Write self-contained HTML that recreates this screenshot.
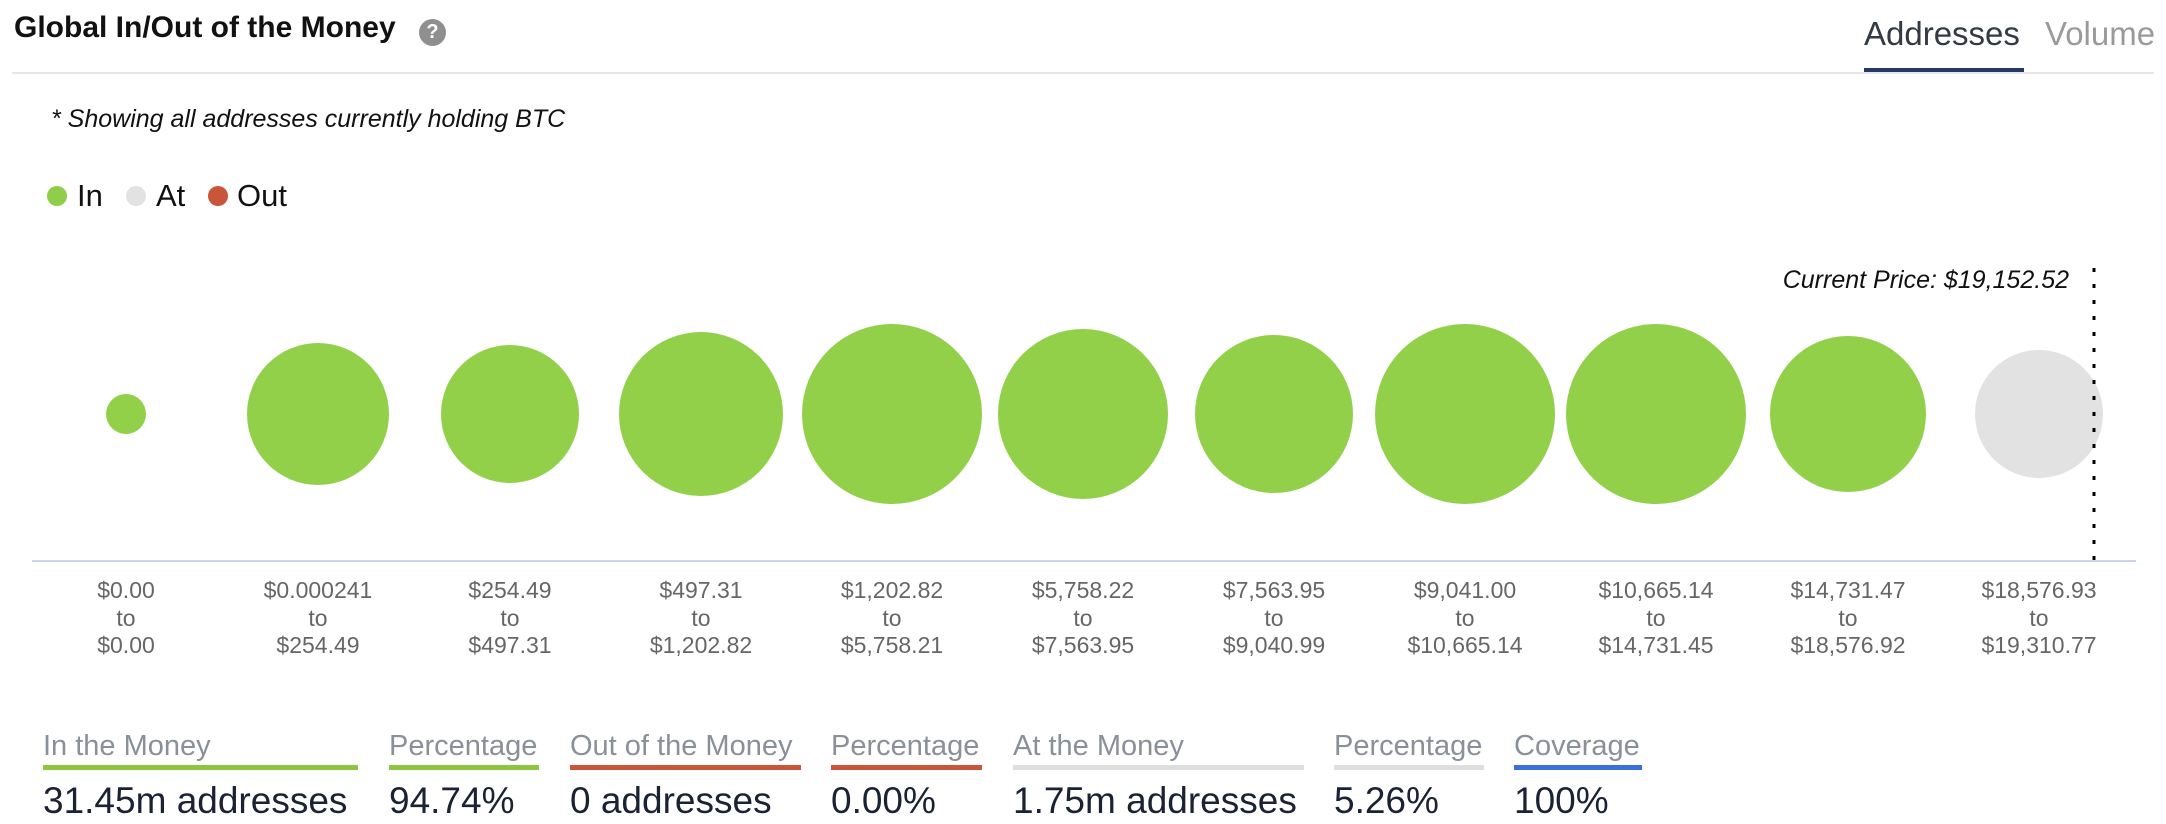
<!DOCTYPE html>
<html><head><meta charset="utf-8"><style>
body{margin:0;width:2166px;height:824px;background:#fff;overflow:hidden;position:relative;font-family:"Liberation Sans",sans-serif}
.a{position:absolute;white-space:nowrap}
.h{font-size:29px;color:#8a9099;top:730px}
.v{font-size:37px;color:#1a2233;top:780px}
.u{position:absolute;top:765px;height:5px}
</style></head><body>
<div class="a" style="left:14px;top:11px;font-size:30px;font-weight:bold;color:#111">Global In/Out of the Money</div>
<div class="a" style="left:419px;top:19px;width:27px;height:27px;border-radius:50%;background:#8f8f8f;color:#fff;font-size:20px;font-weight:bold;text-align:center;line-height:27px">?</div>
<div class="a" style="left:1864px;top:15px;font-size:33px;color:#333a44">Addresses</div>
<div class="a" style="left:2045px;top:15px;font-size:33px;color:#9a9a9a">Volume</div>
<div class="a" style="left:12px;top:72px;width:2142px;height:2px;background:#e3e7eb"></div>
<div class="a" style="left:1864px;top:68px;width:160px;height:4px;background:#263868"></div>
<div class="a" style="left:51px;top:105px;font-size:25px;font-style:italic;color:#111">* Showing all addresses currently holding BTC</div>
<div class="a" style="left:47px;top:186px;width:20px;height:20px;border-radius:50%;background:#8fce48"></div>
<div class="a" style="left:77px;top:178px;font-size:31px;color:#111">In</div>
<div class="a" style="left:126px;top:186px;width:20px;height:20px;border-radius:50%;background:#e2e2e2"></div>
<div class="a" style="left:156px;top:178px;font-size:31px;color:#111">At</div>
<div class="a" style="left:208px;top:186px;width:20px;height:20px;border-radius:50%;background:#c9553b"></div>
<div class="a" style="left:237px;top:178px;font-size:31px;color:#111">Out</div>
<svg class="a" style="left:0;top:0" width="2166" height="824">
<g fill="#92d04a">
<circle cx="126" cy="414" r="20"/><circle cx="318" cy="414" r="71"/><circle cx="510" cy="414" r="69"/>
<circle cx="701" cy="414" r="82"/><circle cx="892" cy="414" r="90"/><circle cx="1083" cy="414" r="85"/>
<circle cx="1274" cy="414" r="79"/><circle cx="1465" cy="414" r="90"/><circle cx="1656" cy="414" r="90"/>
<circle cx="1848" cy="414" r="78"/></g>
<circle cx="2039" cy="414" r="64" fill="#e2e2e2"/>
<line x1="32" y1="561" x2="2136" y2="561" stroke="#ccd6eb" stroke-width="2"/>
<line x1="2094" y1="268" x2="2094" y2="561" stroke="#000" stroke-width="3" stroke-dasharray="4,12"/>
<text x="2069" y="288" text-anchor="end" font-size="25" font-style="italic" fill="#111" font-family="Liberation Sans">Current Price: $19,152.52</text>
<g font-size="23" fill="#666" text-anchor="middle" font-family="Liberation Sans">
<text x="126" y="598">$0.00</text><text x="126" y="626">to</text><text x="126" y="653">$0.00</text>
<text x="318" y="598">$0.000241</text><text x="318" y="626">to</text><text x="318" y="653">$254.49</text>
<text x="510" y="598">$254.49</text><text x="510" y="626">to</text><text x="510" y="653">$497.31</text>
<text x="701" y="598">$497.31</text><text x="701" y="626">to</text><text x="701" y="653">$1,202.82</text>
<text x="892" y="598">$1,202.82</text><text x="892" y="626">to</text><text x="892" y="653">$5,758.21</text>
<text x="1083" y="598">$5,758.22</text><text x="1083" y="626">to</text><text x="1083" y="653">$7,563.95</text>
<text x="1274" y="598">$7,563.95</text><text x="1274" y="626">to</text><text x="1274" y="653">$9,040.99</text>
<text x="1465" y="598">$9,041.00</text><text x="1465" y="626">to</text><text x="1465" y="653">$10,665.14</text>
<text x="1656" y="598">$10,665.14</text><text x="1656" y="626">to</text><text x="1656" y="653">$14,731.45</text>
<text x="1848" y="598">$14,731.47</text><text x="1848" y="626">to</text><text x="1848" y="653">$18,576.92</text>
<text x="2039" y="598">$18,576.93</text><text x="2039" y="626">to</text><text x="2039" y="653">$19,310.77</text>
</g></svg>
<div class="a h" style="left:43px">In the Money</div><div class="u" style="left:43px;width:315px;background:#8cc63f"></div><div class="a v" style="left:43px">31.45m addresses</div>
<div class="a h" style="left:389px">Percentage</div><div class="u" style="left:389px;width:150px;background:#8cc63f"></div><div class="a v" style="left:389px">94.74%</div>
<div class="a h" style="left:570px">Out of the Money</div><div class="u" style="left:570px;width:231px;background:#c9553b"></div><div class="a v" style="left:570px">0 addresses</div>
<div class="a h" style="left:831px">Percentage</div><div class="u" style="left:831px;width:151px;background:#c9553b"></div><div class="a v" style="left:831px">0.00%</div>
<div class="a h" style="left:1013px">At the Money</div><div class="u" style="left:1013px;width:291px;background:#dedede"></div><div class="a v" style="left:1013px">1.75m addresses</div>
<div class="a h" style="left:1334px">Percentage</div><div class="u" style="left:1334px;width:150px;background:#dedede"></div><div class="a v" style="left:1334px">5.26%</div>
<div class="a h" style="left:1514px">Coverage</div><div class="u" style="left:1514px;width:128px;background:#3b6fe0"></div><div class="a v" style="left:1514px">100%</div>
</body></html>
